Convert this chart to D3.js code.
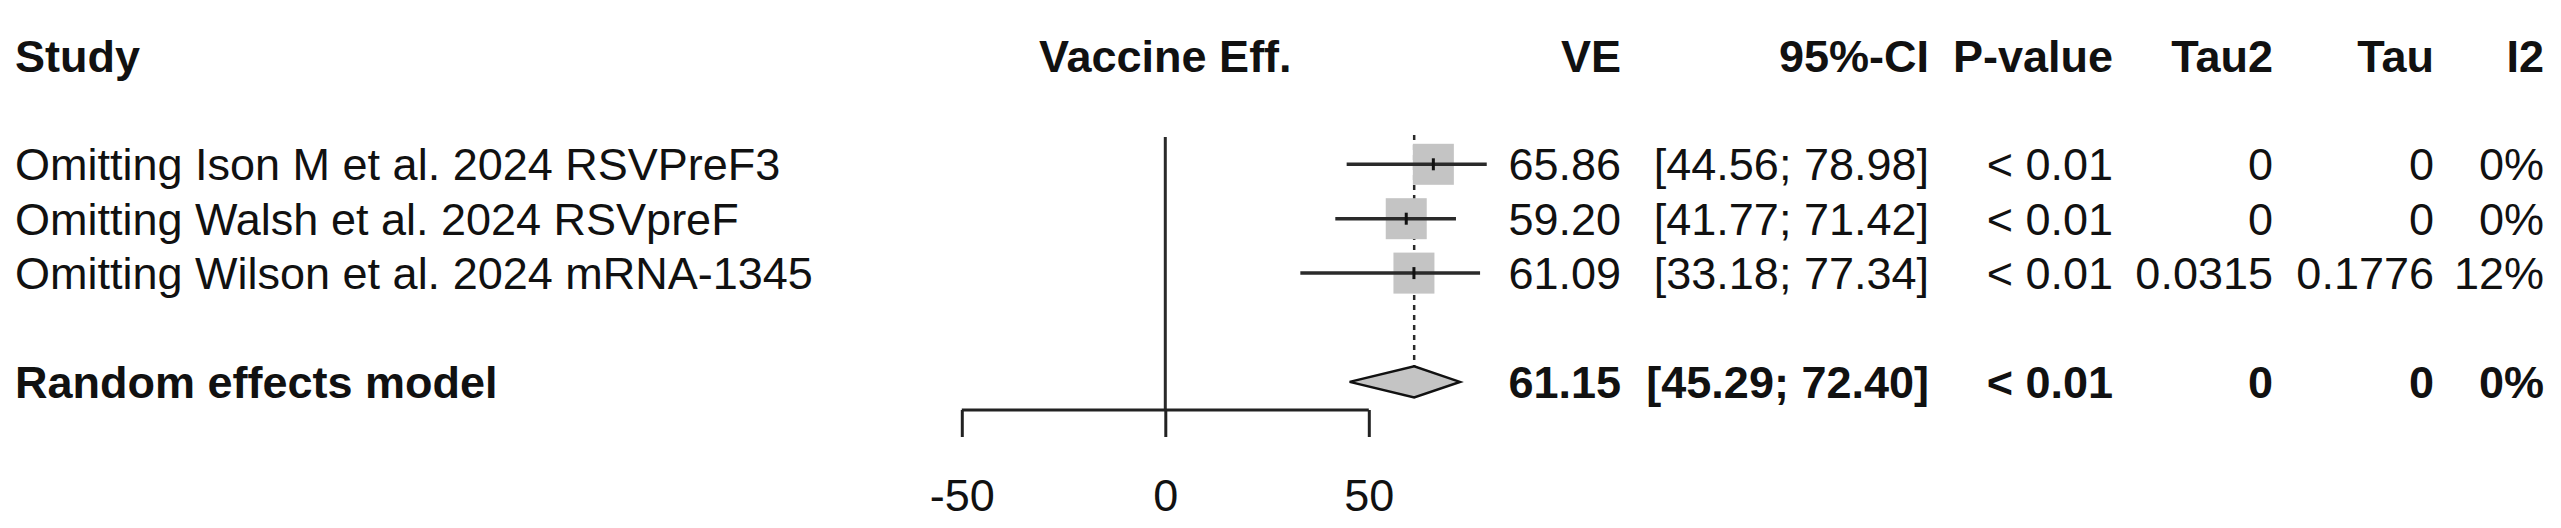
<!DOCTYPE html>
<html>
<head>
<meta charset="utf-8">
<script src="https://cdn.jsdelivr.net/npm/d3@7"></script>
<style>
  body { margin: 0; background: #fff; }
  svg { display: block; }
  text { font-family: "Liberation Sans", Arial, Helvetica, sans-serif; font-size: 45px; fill: #111; }
</style>
</head>
<body>
<svg width="2561" height="528"></svg>
<script>
const width = 2561;
const height = 528;

// leave-one-out rows
const studies = [
    "Omitting Ison M et al. 2024 RSVPreF3",
    "Omitting Walsh et al. 2024 RSVpreF",
    "Omitting Wilson et al. 2024 mRNA-1345"
];
const ve = [65.86, 59.20, 61.09];
const ciLow = [44.56, 41.77, 33.18];
const ciHigh = [78.98, 71.42, 77.34];
const pval = ["< 0.01", "< 0.01", "< 0.01"];
const tau2 = ["0", "0", "0.0315"];
const tau = ["0", "0", "0.1776"];
const i2 = ["0%", "0%", "12%"];

// pooled estimate
const pooledLabel = "Random effects model";
const pooledVE = 61.15;
const pooledLow = 45.29;
const pooledHigh = 72.40;
const pooledRow = ["< 0.01", "0", "0", "0%"];

const headers = ["VE", "95%-CI", "P-value", "Tau2", "Tau", "I2"];
const axisTicks = [-50, 0, 50];

const fmt = d3.format(".2f");

const x = d3.scaleLinear().domain([-50, 50]).range([961.8, 1368.8]);
const row = d3.scaleLinear().domain([0, 1]).range([55.5, 109.9]);  // row index -> center y
const studyRows = [2, 3, 4];
const pooledRowIdx = 6;

// right edges of text columns
const colX = [1621, 1929, 2113, 2273, 2434, 2544];

const svg = d3.select("svg");
const gLines = svg.append("g");
const gMarks = svg.append("g");
const gText = svg.append("g");

// header
gText.append("text").attr("x", 15).attr("y", row(0) + 16)
    .attr("font-weight", 700).text("Study");
gText.append("text").attr("x", x(0)).attr("y", row(0) + 16)
    .attr("text-anchor", "middle").attr("font-weight", 700).text("Vaccine Eff.");
gText.selectAll(".hdr").data(headers).join("text")
    .attr("class", "hdr")
    .attr("x", (d, i) => colX[i]).attr("y", row(0) + 16)
    .attr("text-anchor", "end").attr("font-weight", 700)
    .text(d => d);

// reference line at 0 and pooled dashed line
gLines.append("line")
    .attr("x1", x(0)).attr("x2", x(0))
    .attr("y1", 137).attr("y2", 410)
    .attr("stroke", "#2a2a2a").attr("stroke-width", 3);
gLines.append("line")
    .attr("x1", x(pooledVE)).attr("x2", x(pooledVE))
    .attr("y1", 135).attr("y2", row(pooledRowIdx) - 15.5)
    .attr("stroke", "#2a2a2a").attr("stroke-width", 2.5)
    .attr("stroke-dasharray", "5,5");

// study rows
const rows = studies.map((s, i) => ({
    label: s, ve: ve[i], lo: ciLow[i], hi: ciHigh[i],
    cols: [fmt(ve[i]), `[${fmt(ciLow[i])}; ${fmt(ciHigh[i])}]`, pval[i], tau2[i], tau[i], i2[i]],
    y: row(studyRows[i])
}));

const sq = 41;
gMarks.selectAll(".sq").data(rows).join("rect")
    .attr("class", "sq")
    .attr("x", d => x(d.ve) - sq / 2).attr("y", d => d.y - sq / 2)
    .attr("width", sq).attr("height", sq)
    .attr("fill", "#c4c4c4");
gMarks.selectAll(".ci").data(rows).join("line")
    .attr("class", "ci")
    .attr("x1", d => x(d.lo)).attr("x2", d => x(d.hi))
    .attr("y1", d => d.y).attr("y2", d => d.y)
    .attr("stroke", "#2a2a2a").attr("stroke-width", 3.5);
gMarks.selectAll(".pt").data(rows).join("line")
    .attr("class", "pt")
    .attr("x1", d => x(d.ve)).attr("x2", d => x(d.ve))
    .attr("y1", d => d.y - 6).attr("y2", d => d.y + 6)
    .attr("stroke", "#111").attr("stroke-width", 3);

rows.forEach(d => {
    gText.append("text").attr("x", 15).attr("y", d.y + 16).text(d.label);
    d.cols.forEach((c, j) => {
        gText.append("text").attr("x", colX[j]).attr("y", d.y + 16)
            .attr("text-anchor", "end").text(c);
    });
});

// pooled diamond
const py = row(pooledRowIdx);
gMarks.append("path")
    .attr("d", `M${x(pooledLow)},${py} L${x(pooledVE)},${py - 15.5} L${x(pooledHigh)},${py} L${x(pooledVE)},${py + 15.5} Z`)
    .attr("fill", "#c4c4c4").attr("stroke", "#111").attr("stroke-width", 2.5);
const pooledCols = [fmt(pooledVE), `[${fmt(pooledLow)}; ${fmt(pooledHigh)}]`, ...pooledRow];
gText.append("text").attr("x", 15).attr("y", py + 16).attr("font-weight", 700).text(pooledLabel);
pooledCols.forEach((c, j) => {
    gText.append("text").attr("x", colX[j]).attr("y", py + 16)
        .attr("text-anchor", "end").attr("font-weight", 700).text(c);
});

// x axis
const axis = svg.append("g").attr("transform", "translate(0,410)")
    .call(d3.axisBottom(x).tickValues(axisTicks).tickSize(27).tickPadding(42).tickFormat(d => String(d)));
axis.select(".domain").attr("d", `M${x(-50)},0H${x(50)}`).attr("stroke", "#222").attr("stroke-width", 3);
axis.selectAll(".tick line").attr("stroke", "#222").attr("stroke-width", 3);
axis.selectAll(".tick text")
    .attr("font-size", 45).attr("font-family", "Liberation Sans, Arial, sans-serif")
    .attr("fill", "#111");
</script>
</body>
</html>
